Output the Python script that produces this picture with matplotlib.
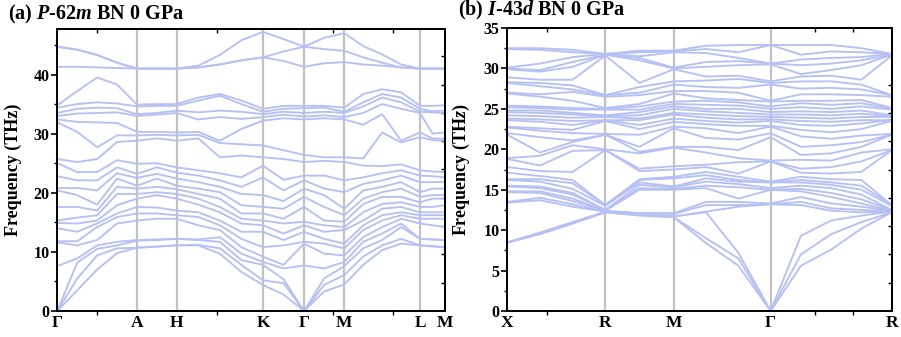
import numpy as np
import matplotlib
matplotlib.use("Agg")
import matplotlib.pyplot as plt

plt.rcParams["font.family"] = ["Liberation Serif", "DejaVu Serif"]
plt.rcParams["font.weight"] = "bold"
plt.rcParams["mathtext.fontset"] = "custom"
plt.rcParams["mathtext.rm"] = "Liberation Serif:bold"
plt.rcParams["mathtext.it"] = "Liberation Serif:italic:bold"

BAND_COLOR = "#b6c0f2"
KLINE_COLOR = "#c2c2c2"

# ---------------- (a) P-62m BN : path Γ-A-H-K-Γ-M-L-M ----------------
labels_a = ["Γ", "A", "H", "K", "Γ", "M", "L", "M"]
kpos_a = [0.0, 79.7, 119.4, 205.7, 246.7, 287.0, 362.7, 387.7]
steps_a = [4, 2, 4, 2, 2, 4, 2]          # sampled points inside each segment
# phonon frequencies (THz), one row per sampled k-point, 24 branches
freq_a = [
    [0, 0, 0, 7.6, 11.6, 11.8, 14.0, 14.9, 15.3, 17.6, 20.4, 20.8, 22.8, 25.0, 25.7, 31.9, 32.4, 33.0, 33.5, 34.4, 34.8, 41.3, 44.7, 44.7],
    [3.5, 5.5, 8.2, 8.9, 11.1, 11.8, 13.4, 14.8, 15.8, 17.6, 19.6, 20.8, 22.1, 23.5, 25.2, 30.3, 32.0, 33.4, 34.2, 35.0, 37.2, 41.3, 44.2, 44.2],
    [7.0, 9.4, 10.5, 11.1, 12.0, 14.2, 14.8, 15.3, 16.2, 17.0, 18.0, 20.4, 22.1, 23.5, 25.7, 27.7, 31.9, 33.5, 34.4, 35.3, 39.5, 41.2, 43.3, 43.3],
    [9.8, 10.6, 11.1, 11.7, 14.8, 15.9, 16.5, 17.9, 19.8, 21.0, 22.4, 23.3, 24.3, 25.5, 28.6, 29.7, 31.8, 33.6, 34.3, 35.1, 38.3, 41.1, 42.0, 42.0],
    [10.7, 10.7, 11.9, 12.0, 15.3, 16.5, 17.6, 19.0, 19.8, 20.7, 21.2, 22.5, 23.2, 24.9, 28.8, 29.7, 30.3, 33.0, 33.3, 34.6, 34.9, 41.0, 41.0, 41.0],
    [10.9, 10.9, 12.0, 12.1, 15.6, 16.5, 17.5, 19.6, 20.1, 21.0, 22.4, 23.2, 24.3, 25.0, 29.2, 29.8, 30.3, 33.2, 33.5, 34.7, 35.0, 41.0, 41.0, 41.0],
    [11.1, 11.1, 12.2, 12.2, 15.6, 16.2, 17.0, 19.0, 19.8, 20.6, 21.2, 22.4, 23.4, 24.3, 28.8, 29.7, 30.2, 33.5, 33.9, 34.7, 35.0, 41.0, 41.0, 41.0],
    [11.1, 11.2, 12.0, 12.1, 14.5, 15.9, 16.7, 18.0, 19.0, 19.8, 20.7, 21.8, 22.9, 23.8, 29.2, 29.8, 30.3, 32.4, 33.6, 35.6, 36.1, 41.2, 41.2, 41.5],
    [9.7, 10.6, 11.7, 12.5, 13.7, 14.5, 15.3, 16.7, 17.6, 19.0, 20.1, 21.0, 22.1, 23.3, 26.0, 28.4, 28.8, 32.8, 33.9, 36.4, 36.7, 41.7, 41.7, 43.3],
    [6.6, 7.8, 8.6, 9.7, 10.8, 12.2, 13.4, 14.8, 15.6, 16.5, 17.9, 19.8, 21.0, 22.6, 26.3, 28.2, 30.8, 32.5, 33.7, 35.0, 35.6, 42.4, 42.4, 45.8],
    [4.4, 5.2, 7.8, 8.3, 9.2, 10.8, 13.4, 14.5, 15.3, 16.5, 17.6, 19.6, 22.6, 24.6, 26.0, 28.0, 32.2, 32.8, 33.3, 33.7, 34.2, 42.9, 42.9, 47.2],
    [2.8, 4.7, 5.4, 7.2, 7.8, 11.1, 12.0, 13.1, 14.8, 15.6, 17.3, 18.6, 20.4, 22.2, 25.7, 27.2, 32.6, 33.2, 33.7, 34.2, 34.7, 42.3, 43.9, 46.0],
    [0, 0, 0, 7.7, 11.4, 11.7, 13.4, 14.5, 15.1, 17.6, 19.3, 20.7, 22.1, 22.9, 25.2, 26.4, 32.4, 32.9, 33.5, 34.3, 34.7, 41.3, 44.7, 44.7],
    [3.3, 4.4, 5.5, 7.2, 9.7, 11.4, 12.2, 13.4, 14.5, 15.3, 17.6, 19.6, 20.7, 22.9, 25.4, 26.0, 32.6, 33.1, 33.7, 34.4, 34.7, 41.9, 44.3, 46.2],
    [4.5, 6.1, 7.6, 8.3, 9.4, 10.6, 11.4, 13.7, 14.2, 15.1, 16.2, 17.3, 20.1, 22.1, 25.2, 26.0, 32.4, 32.8, 33.5, 33.7, 34.4, 42.1, 44.0, 47.0],
    [7.8, 9.2, 10.6, 11.7, 12.5, 13.7, 14.5, 15.3, 16.7, 18.1, 19.0, 20.4, 21.5, 22.6, 24.6, 25.8, 31.5, 33.5, 34.6, 35.3, 36.7, 41.7, 42.9, 44.8],
    [10.3, 11.1, 12.0, 13.1, 14.2, 15.3, 16.2, 17.3, 18.1, 19.3, 20.1, 21.0, 22.1, 23.3, 24.5, 30.2, 33.3, 35.0, 36.1, 36.7, 37.5, 41.5, 42.0, 43.4],
    [11.4, 12.2, 14.2, 14.8, 15.6, 16.2, 16.7, 17.6, 18.4, 19.3, 20.7, 21.8, 22.9, 23.8, 24.8, 28.5, 28.8, 34.2, 35.3, 36.1, 37.0, 41.2, 41.2, 41.7],
    [11.1, 11.1, 12.2, 12.2, 14.8, 15.6, 16.2, 16.7, 17.6, 18.4, 19.3, 20.1, 21.8, 22.9, 23.8, 29.4, 30.2, 33.5, 33.7, 34.2, 34.7, 41.0, 41.0, 41.0],
    [10.9, 11.0, 12.1, 12.1, 14.5, 15.6, 16.2, 16.7, 17.6, 19.0, 19.6, 20.7, 21.8, 22.8, 23.6, 28.9, 29.2, 30.0, 33.6, 33.8, 34.7, 41.0, 41.0, 41.0],
    [10.8, 10.8, 12.0, 12.0, 14.2, 15.6, 16.2, 16.7, 17.9, 19.0, 19.6, 20.7, 21.8, 22.6, 23.5, 28.8, 29.1, 30.2, 33.5, 33.9, 34.8, 41.0, 41.0, 41.0],
]

# ---------------- (b) I-43d BN : path X-R-M-Γ-R ----------------
labels_b = ["X", "R", "M", "Γ", "R"]
kpos_b = [0.0, 98.0, 166.4, 263.4, 384.4]
steps_b = [3, 2, 3, 4]
freq_R = [12.2, 12.2, 12.3, 12.3, 12.3, 12.4, 12.4, 12.5, 12.5, 13.0, 13.1, 13.1,
          19.9, 19.9, 20.0, 21.8, 21.8, 21.9, 23.5, 23.6, 23.6, 24.0, 24.1, 24.2,
          24.9, 25.0, 25.1, 26.5, 26.7, 26.7, 31.6, 31.7, 31.7, 31.8, 31.8, 31.8]
freq_b = [
    [8.45, 8.45, 8.5, 13.4, 13.5, 14.7, 14.8, 15.4, 15.5, 16.2, 16.3, 17.1, 17.8, 18.8, 18.9, 21.8, 22.0, 22.7,
     22.8, 23.6, 23.8, 24.2, 24.6, 24.8, 25.2, 25.4, 26.9, 27.0, 28.2, 28.3, 28.9, 29.9, 30.0, 30.1, 32.4, 32.5],
    [9.5, 9.6, 9.7, 13.7, 14.0, 14.6, 14.8, 15.2, 15.4, 16.0, 16.3, 16.7, 17.3, 18.0, 19.2, 19.6, 21.5, 22.3,
     22.6, 23.4, 23.7, 24.1, 24.5, 24.8, 25.1, 25.3, 26.5, 26.8, 27.8, 28.2, 28.6, 29.6, 29.8, 30.6, 32.3, 32.5],
    [10.8, 10.9, 11.0, 12.9, 13.2, 13.6, 13.9, 14.4, 14.6, 15.1, 15.8, 16.2, 17.2, 19.8, 20.5, 20.9, 21.1, 22.0,
     22.4, 23.0, 23.5, 23.9, 24.3, 24.5, 24.9, 25.1, 26.0, 27.1, 27.4, 27.9, 28.6, 30.2, 30.8, 31.4, 32.0, 32.3],
    freq_R,
    [11.8, 11.9, 11.9, 12.0, 12.1, 12.1, 15.0, 15.2, 15.6, 15.9, 16.2, 16.3, 17.3, 17.6, 19.5, 19.7, 20.3, 21.8,
     22.5, 23.0, 23.6, 23.8, 24.2, 24.6, 24.9, 25.3, 25.6, 26.7, 27.0, 27.7, 28.2, 31.0, 31.3, 31.5, 32.0, 32.2],
    [11.6, 11.6, 11.7, 11.7, 12.0, 12.1, 15.0, 15.1, 15.3, 15.4, 16.4, 16.6, 17.5, 17.9, 20.2, 20.3, 22.6, 22.8,
     23.4, 23.8, 24.3, 24.5, 25.0, 25.3, 25.6, 25.9, 26.9, 27.2, 28.0, 28.4, 29.9, 30.0, 30.1, 32.0, 32.1, 32.2],
    [8.4, 9.0, 12.2, 12.3, 13.1, 13.5, 15.2, 15.5, 16.0, 16.4, 16.8, 17.2, 17.8, 18.1, 19.6, 20.3, 21.4, 22.6,
     23.1, 23.5, 23.9, 24.3, 24.7, 25.0, 25.5, 26.0, 26.3, 27.2, 27.7, 28.5, 29.0, 30.2, 30.8, 31.9, 32.4, 32.8],
    [5.6, 6.5, 7.2, 12.9, 13.1, 13.5, 13.9, 15.3, 15.7, 16.0, 16.2, 16.6, 17.0, 18.4, 18.9, 19.9, 21.2, 22.0,
     22.9, 23.3, 23.7, 24.1, 24.5, 25.0, 25.4, 25.8, 26.1, 27.0, 27.6, 28.7, 29.1, 30.4, 30.9, 31.3, 32.0, 32.9],
    [0, 0, 0, 13.2, 13.2, 13.3, 15.0, 15.0, 15.2, 15.9, 15.9, 16.0, 18.5, 18.5, 18.6, 21.5, 22.0, 22.8,
     22.9, 23.5, 23.7, 24.0, 24.3, 24.6, 25.0, 25.3, 25.9, 26.0, 28.0, 28.2, 28.4, 30.5, 30.6, 30.6, 32.9, 32.9],
    [5.6, 7.0, 9.3, 13.1, 13.5, 14.1, 14.8, 15.1, 15.5, 15.9, 16.2, 16.6, 17.1, 17.6, 18.7, 19.3, 20.3, 21.6,
     22.4, 23.0, 23.5, 23.9, 24.3, 24.7, 25.2, 25.7, 26.0, 26.8, 27.5, 28.4, 29.0, 29.3, 30.4, 31.1, 31.7, 32.9],
    [7.6, 9.5, 11.2, 12.4, 12.7, 13.3, 14.1, 14.6, 15.2, 15.6, 15.9, 16.3, 17.0, 17.8, 18.6, 19.5, 20.5, 21.3,
     22.1, 22.9, 23.4, 23.8, 24.2, 24.6, 25.0, 25.5, 26.0, 26.8, 27.6, 28.4, 29.1, 29.8, 30.6, 31.3, 32.1, 32.9],
    [10.2, 11.0, 11.8, 12.2, 12.5, 12.9, 13.3, 13.8, 14.4, 15.0, 15.5, 16.2, 17.2, 18.5, 19.6, 20.3, 20.9, 21.7,
     22.5, 23.2, 23.6, 24.0, 24.4, 24.8, 25.3, 25.7, 26.1, 26.7, 27.4, 28.0, 28.6, 30.4, 31.0, 31.4, 32.0, 32.5],
    freq_R,
]


def sample_positions(kpos, steps):
    xs = [kpos[0]]
    for i, n in enumerate(steps):
        xs.extend(np.linspace(kpos[i], kpos[i + 1], n + 1)[1:])
    return np.array(xs)


def draw_panel(ax, kpos, steps, freq, labels, ymax, major, minor,
               px_per_unit, edge_ticks, ylabel):
    xs = sample_positions(kpos, steps)
    f = np.asarray(freq, dtype=float)
    for x in kpos[1:-1]:
        ax.axvline(x, color=KLINE_COLOR, lw=1.6, zorder=1)
    for j in range(f.shape[1]):
        ax.plot(xs, f[:, j], color=BAND_COLOR, lw=1.35, zorder=2,
                solid_joinstyle="round", solid_capstyle="round")
    ax.set_xlim(kpos[0], kpos[-1])
    ax.set_ylim(0, ymax)

    ax.set_xticks(kpos)
    ax.set_xticklabels(labels, fontsize=12.5, fontweight="bold")
    ax.set_xticks(edge_ticks, minor=True)
    ax.tick_params(axis="x", which="major", length=0, pad=3)
    ax.tick_params(axis="x", which="minor", length=3, width=1.0, direction="out")

    ax.set_yticks(np.arange(0, ymax + 0.01, major))
    ax.set_yticks(np.arange(minor, ymax, minor * 2), minor=True)
    ax.tick_params(axis="y", which="major", length=4, width=1.2,
                   direction="out", labelsize=11.5, pad=1.5)
    ax.tick_params(axis="y", which="minor", length=2.5, width=1.0, direction="out")
    for lab in ax.get_yticklabels():
        lab.set_fontweight("bold")

    # mirrored ticks on the top and right edges, pointing inwards
    top = ax.secondary_xaxis("top")
    top.set_xticks(edge_ticks, labels=[""] * len(edge_ticks))
    top.tick_params(direction="in", length=3, width=1.0)
    right = ax.secondary_yaxis("right")
    rt = np.arange(1, 11) * 28.3 / px_per_unit
    rt = rt[rt < ymax - 0.5]
    right.set_yticks(rt, labels=[""] * len(rt))
    right.tick_params(direction="in", length=3, width=1.0)
    for sp in list(ax.spines.values()) + [top.spines["top"], right.spines["right"]]:
        sp.set_linewidth(1.4)

    ax.set_ylabel(ylabel, fontsize=13, fontweight="bold")
    ax.yaxis.set_label_coords(-0.092, 0.5)


fig = plt.figure(figsize=(9.01, 3.37), dpi=100)
W, H = 901.0, 337.0
ax_a = fig.add_axes([57.3 / W, 1 - 311 / H, (445 - 57.3) / W, (311 - 29) / H])
ax_b = fig.add_axes([507.3 / W, 1 - 311 / H, (891.7 - 507.3) / W, (311 - 28) / H])

draw_panel(ax_a, kpos_a, steps_a, freq_a, labels_a, 47.7, 10, 5, 5.91,
           [39.4, 159.7, 276.0, 336.0], "Frequency (THz)")
draw_panel(ax_b, kpos_b, steps_b, freq_b, labels_b, 35.0, 5, 2.5, 8.086,
           [39.4, 307.7, 346.0], "Frequency (TH$z$)")

fig.text(8 / W, 1 - 19 / H, r"(a) $P$-62$m$ BN 0 GPa", fontsize=14.5,
         fontweight="bold", va="baseline", ha="left")
fig.text(458 / W, 1 - 15.5 / H, r"(b) $I$-43$d$ BN 0 GPa", fontsize=14.5,
         fontweight="bold", va="baseline", ha="left")

fig.savefig("out.png", dpi=100)
